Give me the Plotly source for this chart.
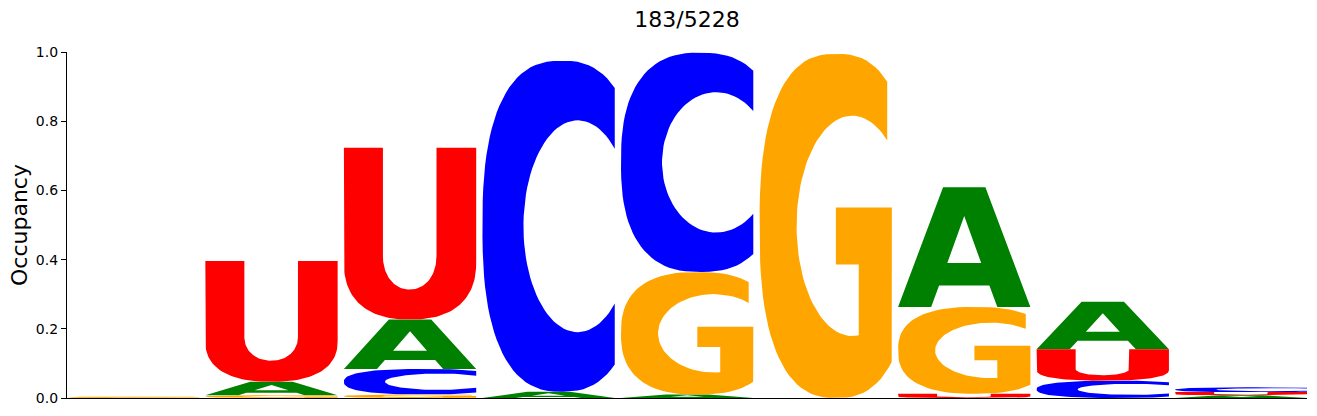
import numpy as np
import plotly.graph_objects as go

# Data: occupancy per position (sequence logo)
positions = [0, 1, 2, 3, 4, 5, 6, 7, 8]
occ_A = [0.0, 0.039, 0.143, 0.018, 0.010, 0.0, 0.346, 0.137, 0.008]
occ_C = [0.0, 0.0, 0.074, 0.957, 0.634, 0.0, 0.0, 0.050, 0.014]
occ_G = [0.004, 0.008, 0.010, 0.0, 0.354, 0.995, 0.251, 0.0, 0.0]
occ_U = [0.0, 0.349, 0.496, 0.0, 0.0, 0.0, 0.012, 0.091, 0.009]
title_text = "183/5228"
y_ticks = [0.0, 0.2, 0.4, 0.6, 0.8, 1.0]

colors = {"A": "#008000", "C": "#0000ff", "G": "#ffa500", "U": "#ff0000"}
glyph_width = 0.955


def sarc(cx, cy, rx, ry, t0, t1, n=2.0, num=70):
    # superellipse arc
    t = np.linspace(t0, t1, num)
    c, s = np.cos(t), np.sin(t)
    x = cx + rx * np.sign(c) * np.abs(c) ** (2 / n)
    y = cy + ry * np.sign(s) * np.abs(s) ** (2 / n)
    return x, y


def t_at_x(cx, rx, xt, n):
    return np.arccos(((xt - cx) / rx) ** (n / 2))


def glyph_U():
    ox, oy = sarc(0.5, 0.34, 0.5, 0.34, np.pi, 2 * np.pi, n=2.4)
    ix, iy = sarc(0.4975, 0.37, 0.2025, 0.196, 0.0, -np.pi, n=2.1)
    xs = np.concatenate([[0.0], ox, [1.0, 0.70], ix, [0.295]])
    ys = np.concatenate([[1.0], oy, [1.0, 1.0], iy, [1.0]])
    return [(xs, ys)]


def glyph_C():
    a = t_at_x(0.6, 0.6, 1.0, 2.5)
    ox, oy = sarc(0.6, 0.5, 0.6, 0.5, a, 2 * np.pi - a, n=2.5)
    b = t_at_x(0.72, 0.41, 1.0, 2.0)
    ix, iy = sarc(0.72, 0.5, 0.41, 0.32, 2 * np.pi - b, b, n=2.0)
    return [(np.concatenate([ox, ix]), np.concatenate([oy, iy]))]


def glyph_G():
    a = t_at_x(0.58, 0.58, 0.965, 2.5)
    c = t_at_x(0.58, 0.58, 0.999, 2.5)
    ox, oy = sarc(0.58, 0.5, 0.58, 0.5, a, 2 * np.pi - c, n=2.5)
    d = t_at_x(0.70, 0.42, 0.75, 2.0)
    b = t_at_x(0.70, 0.42, 0.965, 2.0)
    ix, iy = sarc(0.70, 0.5, 0.42, 0.32, 2 * np.pi - d, b, n=2.0)
    xs = np.concatenate([ox, [1.0, 1.0, 0.577, 0.577, 0.75], ix])
    ys = np.concatenate([oy, [oy[-1], 0.553, 0.553, 0.388, 0.388], iy])
    return [(xs, ys)]


def glyph_A():
    outer_x = np.array([0.0, 0.25, 0.31, 0.69, 0.75, 1.0, 0.66, 0.34])
    outer_y = np.array([0.0, 0.0, 0.18, 0.18, 0.0, 0.0, 1.0, 1.0])
    hole_x = np.array([0.372, 0.5, 0.628])
    hole_y = np.array([0.367, 0.76, 0.367])
    return [(outer_x, outer_y), (hole_x, hole_y)]


glyphs = {"A": glyph_A(), "C": glyph_C(), "G": glyph_G(), "U": glyph_U()}
table = {"A": occ_A, "C": occ_C, "G": occ_G, "U": occ_U}

# stack letters per position, smallest at the bottom
paths = {k: ([], []) for k in table}
for i, pos in enumerate(positions):
    vals = sorted([(table[k][i], k) for k in table if table[k][i] > 0])
    floor = 0.0
    for v, k in vals:
        for gx, gy in glyphs[k]:
            paths[k][0].extend(list(pos - glyph_width / 2 + gx * glyph_width) + [None])
            paths[k][1].extend(list(floor + gy * v) + [None])
        floor += v

fig = go.Figure()
for k in ["A", "C", "G", "U"]:
    fig.add_trace(go.Scatter(
        x=paths[k][0], y=paths[k][1],
        mode="lines", fill="toself",
        fillcolor=colors[k], line=dict(width=0, color=colors[k]),
        name=k, showlegend=False, hoverinfo="skip",
    ))

fig.update_layout(
    width=1317, height=416,
    margin=dict(l=67, r=10, t=52, b=18),
    paper_bgcolor="white", plot_bgcolor="white",
    font=dict(family="DejaVu Sans", color="black"),
    title=dict(text=title_text, xref="paper", x=0.5, xanchor="center",
               y=1 - 19 / 416, yanchor="middle",
               font=dict(size=22, color="black")),
    showlegend=False,
)
fig.update_xaxes(range=[-0.476, 8.474], showticklabels=False, ticks="",
                 showline=True, linecolor="black", linewidth=1.2,
                 showgrid=False, zeroline=False)
fig.update_yaxes(range=[0, 1], tickvals=y_ticks, tickformat=".1f",
                 ticks="outside", ticklen=5, tickwidth=1.1, tickcolor="black",
                 tickfont=dict(size=14),
                 showline=True, linecolor="black", linewidth=1.2,
                 showgrid=False, zeroline=False,
                 title=dict(text="Occupancy", font=dict(size=22), standoff=2))

fig.write_html("out.html", config={"displayModeBar": False},
               post_script="document.body.style.margin='0px';")
